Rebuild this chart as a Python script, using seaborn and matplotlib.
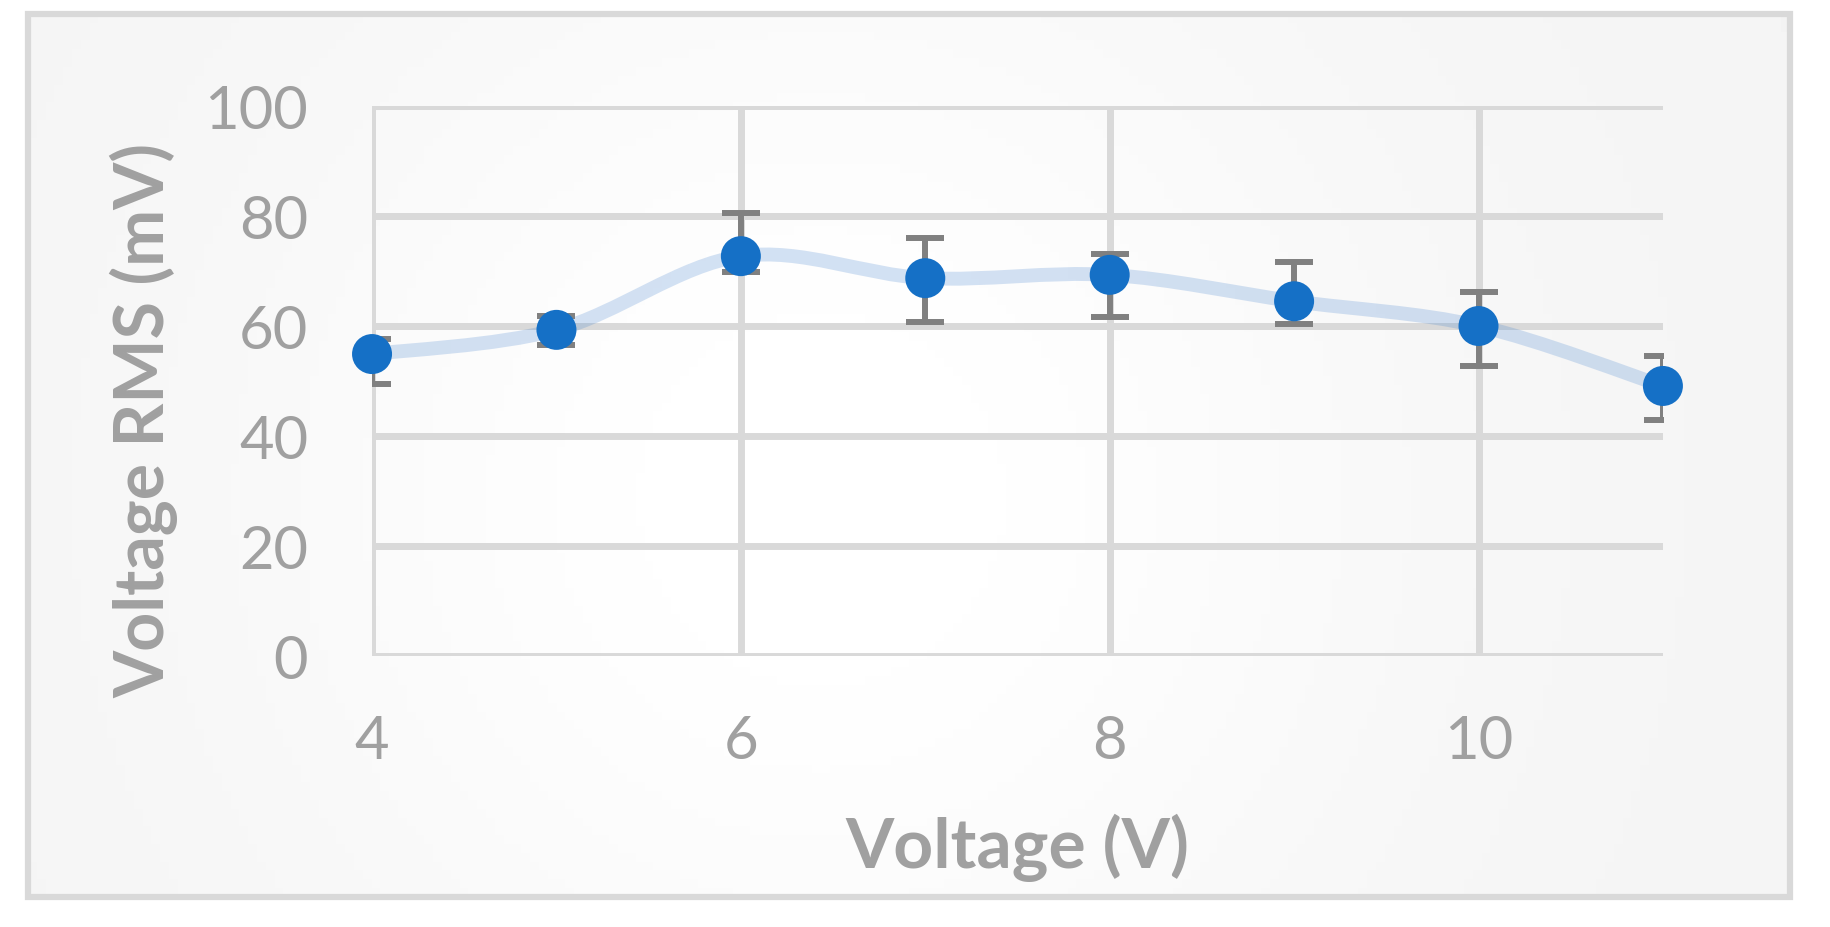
import numpy as np
import matplotlib
matplotlib.use("Agg")
import matplotlib.pyplot as plt
import seaborn as sns
from matplotlib.path import Path
from matplotlib.patches import PathPatch, Rectangle

# values
voltage = [4, 5, 6, 7, 8, 9, 10, 11]
rms_mv = [54.9, 59.3, 72.7, 68.7, 69.3, 64.5, 60.0, 49.1]
err_low = [5.4, 2.8, 2.9, 8.0, 7.7, 4.1, 7.3, 6.2]
err_high = [2.7, 2.5, 7.8, 7.3, 3.8, 7.1, 6.2, 5.4]

x_ticks = [4, 6, 8, 10]
y_ticks = [0, 20, 40, 60, 80, 100]

text_grey = "#a0a0a0"
grid_grey = "#d9d9d9"
point_blue = "#1570c6"


def smooth_path(xs, ys):
    # excel style smoothed line: catmull-rom segments as cubic beziers
    pts = np.column_stack([xs, ys]).astype(float)
    verts = [pts[0]]
    codes = [Path.MOVETO]
    n = len(pts)
    for i in range(n - 1):
        p0 = pts[max(i - 1, 0)]
        p1 = pts[i]
        p2 = pts[i + 1]
        p3 = pts[min(i + 2, n - 1)]
        c1 = p1 + (p2 - p0) / 6.0
        c2 = p2 - (p3 - p1) / 6.0
        verts += [c1, c2, p2]
        codes += [Path.CURVE4] * 3
    return Path(verts, codes)


sns.set_theme(style="white")
plt.rcParams["font.family"] = ["Lato", "DejaVu Sans"]

fig = plt.figure(figsize=(18.3, 9.28), dpi=100)
fig.patch.set_facecolor("white")

# chart area background with soft gradient + border
bg = fig.add_axes([0.0153, 0.0323, 0.9627, 0.9515], zorder=-5)
gx = np.linspace(0, 1, 200)
gy = np.linspace(0, 1, 100)
GX, GY = np.meshgrid(gx, gy)
shade = 0.955 + 0.045 * np.exp(-((GX - 0.45) ** 2 / 0.12 + (GY - 0.55) ** 2 / 0.5))
bg.imshow(shade, cmap="gray", vmin=0, vmax=1, aspect="auto", extent=[0, 1, 0, 1])
bg.set_axis_off()
fig.patches.append(Rectangle((0.0153, 0.0323), 0.9627, 0.9515,
                             transform=fig.transFigure, fill=False,
                             edgecolor=grid_grey, linewidth=4.5, zorder=10))

ax = fig.add_axes([0.2033, 0.292, 0.7054, 0.5927])
ax.set_facecolor("none")

ax.set_xlim(4, 11)
ax.set_ylim(0, 100)
ax.set_xticks(x_ticks)
ax.set_yticks(y_ticks)
ax.grid(True, color=grid_grey, linewidth=5, zorder=0)
ax.set_axisbelow(True)
for s in ax.spines.values():
    s.set_visible(False)

# smoothed trend line
line = PathPatch(smooth_path(voltage, rms_mv), facecolor="none",
                 edgecolor="#4a86d0", alpha=0.24, linewidth=10,
                 capstyle="round", zorder=2)
ax.add_patch(line)

ax.errorbar(voltage, rms_mv, yerr=[err_low, err_high], fmt="none",
            ecolor="#808080", elinewidth=4.3, capsize=13.5, capthick=4.3,
            zorder=3)

sns.scatterplot(x=voltage, y=rms_mv, ax=ax, s=28.8 ** 2, color=point_blue,
                edgecolor="none", linewidth=0, zorder=4, clip_on=False)

ax.tick_params(axis="both", length=0, labelsize=43, labelcolor=text_grey)
ax.tick_params(axis="y", pad=46)
ax.tick_params(axis="x", pad=42)

ax.set_xlabel("Voltage (V)", fontsize=50, fontweight="bold", color=text_grey)
ax.set_ylabel("Voltage RMS (mV)", fontsize=49, fontweight="bold", color=text_grey)
ax.xaxis.label.set_va("baseline")
ax.yaxis.label.set_va("baseline")
ax.xaxis.set_label_coords(0.4996, -0.3836)
ax.yaxis.set_label_coords(-0.161, 0.43)

fig.savefig("out.png", dpi=100)
